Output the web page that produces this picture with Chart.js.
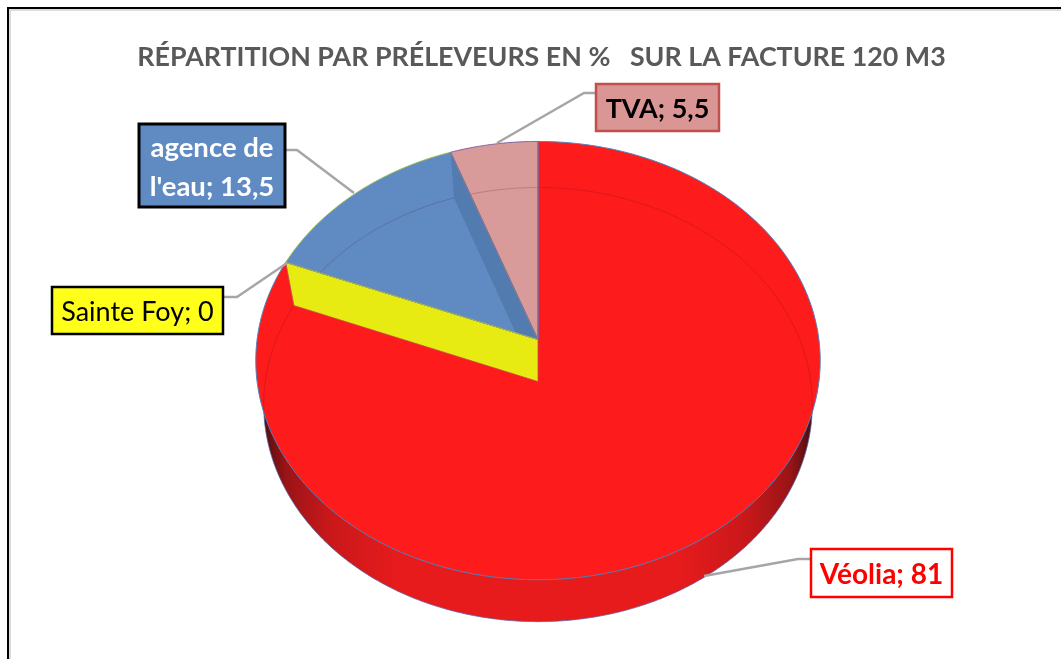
<!DOCTYPE html>
<html><head><meta charset="utf-8">
<script src="https://cdn.jsdelivr.net/npm/chart.js@4"></script>
<style>
html,body{margin:0;padding:0;background:#fff;overflow:hidden}
#wrap{position:relative;width:1061px;height:659px}
#frame{position:absolute;left:7px;top:7px;right:-5px;bottom:-5px;border-left:2.5px solid #000;border-top:2.5px solid #000;box-shadow:inset 2px 2px 0 #dcdcdc;pointer-events:none}
canvas{position:absolute;left:0;top:0}
</style></head><body>
<div id="wrap"><canvas id="c" width="1061" height="659"></canvas><div id="frame"></div></div>
<script>
const categories = ["Véolia", "Sainte Foy", "agence de l'eau", "TVA"];
const values = [81, 0, 13.5, 5.5];
const sliceColors = ["#FD1B1B", "#E8EB12", "#5F8BC2", "#D99A9A"];
const sliceBorders = ["#4F81BD", "#C0504D", "#9BBB59", "#8064A2"];
const titleText = "RÉPARTITION PAR PRÉLEVEURS EN %   SUR LA FACTURE 120 M3";

const FONT = "Lato, Carlito, Calibri, sans-serif";
const labelStyles = [
  {box:[811,549,141,48], fill:"#FFFFFF", border:"#FF0000", bw:2.5, color:"#FF0000", weight:"bold", size:28, lines:null, leader:[[811,559],[798,559],[704,576]]},
  {box:[52,287,171,47], fill:"#FFFF19", border:"#000000", bw:2.5, color:"#000000", weight:"normal", size:27, lines:null, leader:[[223,297],[237,297],[287,263]]},
  {box:[139,124,146,83], fill:"#5F8BC2", border:"#000000", bw:3, color:"#FFFFFF", weight:"bold", size:27.5, lines:["agence de"], leader:[[285,150],[297,150],[354,193]]},
  {box:[596,84,123,47], fill:"#D99694", border:"#C0504D", bw:2.5, color:"#000000", weight:"bold", size:27, lines:null, leader:[[596,93],[584,93],[497,143]]}
];

// Perspective of the tilted disc: maps a unit-circle point on the pie to the page.
function projector(arc, level){
  const cx = arc.x - 3.5, R = arc.outerRadius;
  const p = level === 0
    ? {apex: arc.y - 21, sx: 1, sy: 0.657, k: -0.0959}
    : {apex: arc.y + 21, sx: 0.971, sy: 0.62, k: -0.106};
  return a => {
    const x = Math.cos(a), y = Math.sin(a), d = 1 + p.k * y;
    return [cx + R * p.sx * x / d, (p.apex + R * p.sy * y) / d];
  };
}
function apexOf(arc, level){ return [arc.x - 3.5, arc.y + (level === 0 ? -21 : 21)]; }
function slicePath(ctx, arc){
  const f = projector(arc, 0), ap = apexOf(arc, 0);
  ctx.beginPath(); ctx.moveTo(ap[0], ap[1]);
  const n = Math.max(2, Math.ceil((arc.endAngle - arc.startAngle) * 80));
  for (let i = 0; i <= n; i++){
    const q = f(arc.startAngle + (arc.endAngle - arc.startAngle) * i / n);
    ctx.lineTo(q[0], q[1]);
  }
  ctx.closePath();
}
function ellipsePath(ctx, f){
  ctx.beginPath();
  for (let i = 0; i <= 720; i++){
    const q = f(i / 720 * Math.PI * 2);
    i ? ctx.lineTo(q[0], q[1]) : ctx.moveTo(q[0], q[1]);
  }
  ctx.closePath();
}
function facePath(ctx, arc, angle){
  const t = projector(arc, 0)(angle), b = projector(arc, 1)(angle);
  const a0 = apexOf(arc, 0), a1 = apexOf(arc, 1);
  ctx.beginPath(); ctx.moveTo(a0[0], a0[1]); ctx.lineTo(t[0], t[1]);
  ctx.lineTo(b[0], b[1]); ctx.lineTo(a1[0], a1[1]); ctx.closePath();
}
const pie3d = {
  id: "pie3d",
  beforeDatasetsDraw(chart){
    const ctx = chart.ctx, arcs = chart.getDatasetMeta(0).data, first = arcs[0];
    const top = projector(first, 0), bot = projector(first, 1);
    ctx.save();
    // side wall
    const g = ctx.createLinearGradient(first.x - 3.5 - first.outerRadius * 0.975, 0, first.x - 3.5 + first.outerRadius * 0.975, 0);
    [[0,"#560E0F"],[0.04,"#9A1416"],[0.12,"#C9181A"],[0.25,"#E81B1C"],[0.75,"#E81B1C"],[0.88,"#C9181A"],[0.96,"#9A1416"],[1,"#4A0D0E"]]
      .forEach(s => g.addColorStop(s[0], s[1]));
    ellipsePath(ctx, bot); ctx.fillStyle = g; ctx.fill();
    ctx.strokeStyle = "rgba(79,100,170,0.75)"; ctx.lineWidth = 1; ctx.stroke();
    // top faces
    arcs.forEach((arc, i) => {
      if (arc.endAngle - arc.startAngle < 1e-6) return;
      slicePath(ctx, arc); ctx.fillStyle = sliceColors[i]; ctx.fill();
    });
    // floor outline seen faintly through the top
    ctx.save(); ellipsePath(ctx, top); ctx.clip();
    ellipsePath(ctx, bot); ctx.strokeStyle = "rgba(110,20,40,0.22)"; ctx.lineWidth = 1; ctx.stroke();
    ctx.restore();
    // inner strip on the slice next to the last boundary
    const blue = arcs[2];
    ctx.save(); slicePath(ctx, blue); ctx.clip();
    facePath(ctx, blue, blue.endAngle); ctx.fillStyle = "#527BB0"; ctx.fill();
    ctx.restore();
    // zero-size slice: only its cut face shows
    arcs.forEach((arc, i) => {
      if (arc.endAngle - arc.startAngle >= 1e-6) return;
      facePath(ctx, arc, arc.startAngle); ctx.fillStyle = sliceColors[i]; ctx.fill();
      ctx.strokeStyle = "rgba(192,80,77,0.8)"; ctx.lineWidth = 1; ctx.stroke();
    });
    // slice outlines
    arcs.forEach((arc, i) => {
      if (arc.endAngle - arc.startAngle < 1e-6) return;
      slicePath(ctx, arc); ctx.strokeStyle = sliceBorders[i]; ctx.lineWidth = 1; ctx.stroke();
    });
    ctx.restore();
    return false;
  },
  afterDraw(chart){
    const ctx = chart.ctx;
    ctx.save();
    labelStyles.forEach((s, i) => {
      ctx.beginPath();
      s.leader.forEach((q, j) => j ? ctx.lineTo(q[0], q[1]) : ctx.moveTo(q[0], q[1]));
      ctx.strokeStyle = "#A6A6A6"; ctx.lineWidth = 2.5; ctx.stroke();
      const [x, y, w, h] = s.box;
      ctx.fillStyle = s.fill; ctx.fillRect(x, y, w, h);
      ctx.strokeStyle = s.border; ctx.lineWidth = s.bw; ctx.strokeRect(x, y, w, h);
      const val = String(values[i]).replace(".", ",");
      const full = categories[i] + "; " + val;
      let lines = [full];
      if (s.lines) lines = [s.lines[0], full.slice(s.lines[0].length + 1)];
      ctx.font = s.weight + " " + s.size + "px " + FONT;
      ctx.fillStyle = s.color; ctx.textAlign = "center"; ctx.textBaseline = "middle";
      const lh = 39, y0 = y + h / 2 - (lines.length - 1) * lh / 2 + 2;
      lines.forEach((t, j) => ctx.fillText(t, x + w / 2, y0 + j * lh));
    });
    ctx.restore();
  }
};
new Chart(document.getElementById("c"), {
  type: "pie",
  data: { labels: categories, datasets: [{ data: values, backgroundColor: sliceColors, borderColor: sliceBorders, borderWidth: 1 }] },
  options: {
    responsive: false, animation: false,
    layout: { padding: { left: 22, right: 0, top: 0, bottom: 17 } },
    plugins: {
      legend: { display: false }, tooltip: { enabled: false },
      title: { display: true, text: titleText, color: "#595959", align: "center",
        font: { family: FONT, size: 26.8, weight: "bold" }, padding: { top: 41.5, bottom: 5.5 } }
    }
  },
  plugins: [pie3d]
});
</script>
</body></html>
